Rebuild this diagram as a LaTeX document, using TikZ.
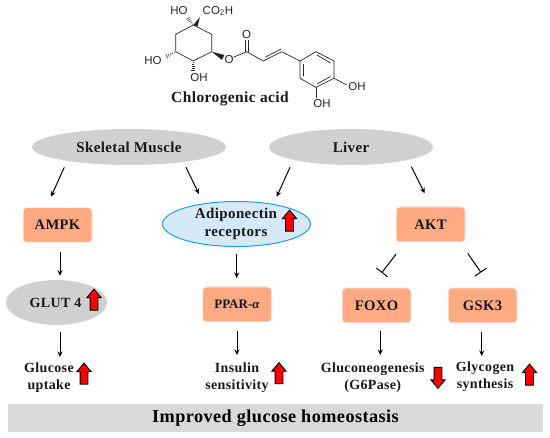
\documentclass[tikz,border=0pt]{standalone}
\usepackage{fontspec}
\setmainfont{Liberation Serif}[LetterSpace=2.5]
\newfontfamily\chemfont{Liberation Sans}
\usetikzlibrary{arrows.meta,shapes.geometric,shapes.arrows,calc}
\definecolor{boxfill}{RGB}{255,170,130}
\definecolor{halo}{RGB}{245,238,234}
\definecolor{ovalgray}{RGB}{208,208,208}
\definecolor{barfill}{RGB}{217,217,217}
\definecolor{adipofill}{RGB}{214,233,248}
\definecolor{adipoline}{RGB}{27,160,225}
\definecolor{txt}{RGB}{25,25,25}
\tikzset{
  tissue/.style={ellipse,fill=ovalgray,inner sep=0pt,font=\fontsize{15}{17}\selectfont\bfseries,text=txt},
  enzyme/.style={rectangle,rounded corners=3.5pt,fill=boxfill,draw=halo,line width=1pt,minimum width=69pt,minimum height=35pt,inner sep=0pt,font=\fontsize{14.6}{17}\selectfont\bfseries,text=txt},
  outcome/.style={align=center,inner sep=0pt,font=\fontsize{14}{17}\selectfont\bfseries,text=txt},
  arr/.style={-{Stealth[length=5.5pt,width=5pt]},line width=1pt,black},
  inhib/.style={-{Bar[width=14pt,length=0.1pt]},line width=1pt,black},
  upmark/.style={single arrow,draw=black,fill=red,line width=0.9pt,inner sep=3.5pt,minimum height=21pt,minimum width=13.5pt,single arrow head extend=3.2pt,single arrow tip angle=80,shape border rotate=90},
  downmark/.style={upmark,shape border rotate=270},
  bond/.style={line width=0.7pt,black!85},
  atom/.style={inner sep=0pt,font=\chemfont\fontsize{11.5}{13}\selectfont,text=black!85}
}
\newcommand{\hashbond}[4]{%
  \foreach \t/\w in {0.12/0.5,0.3/0.9,0.48/1.3,0.66/1.7,0.84/2.1,1/2.5}{%
    \draw[line width=0.5pt,black!85]
      ($($(#1,#2)!\t!(#3,#4)$)!\w pt!90:(#3,#4)$) -- ($($(#1,#2)!\t!(#3,#4)$)!\w pt!-90:(#3,#4)$);}}
\begin{document}
\begin{tikzpicture}[x=1pt,y=-1pt]
\useasboundingbox (0,0) rectangle (550,438);

% molecule
\draw[bond,line join=round] (193.3,25) -- (211.7,34.3) -- (211.7,51.7);
\draw[bond,line join=round] (193.3,61) -- (175.7,51.7) -- (175.7,34.3) -- (193.3,25);
\draw[bond] (211.7,51.7) -- (193.3,0+61);
\fill[black!85] (193.3,25) -- (197.5,26.5) -- (200,17) -- cycle;
\hashbond{193.3}{25}{187}{17}
\hashbond{175.7}{51.7}{165}{57}
\hashbond{193.3}{61}{193.3}{72}
\fill[black!85] (211.7,51.7) -- (222,60) -- (224.5,55) -- cycle;
\draw[bond] (233.3,57.3) -- (246.7,51.7) -- (263.3,61) -- (281.7,51.7) -- (300,61);
\draw[bond] (245.7,51.7) -- (245.7,40);
\draw[bond] (248,51.7) -- (248,40);
\draw[bond] (265.5,57) -- (281,49);
\draw[bond,line join=round] (300,61) -- (316,51.7) -- (334,61) -- (334,78.3) -- (316,87.3) -- (300,78.3) -- cycle;
\draw[bond] (317,55) -- (330.5,63);
\draw[bond] (330.5,76.5) -- (317,84);
\draw[bond] (303,64) -- (303,76);
\draw[bond] (334,78.3) -- (346.7,85);
\draw[bond] (316,87.3) -- (316,98.3);
\node[atom] (m1) at (179,11) {HO};
\node[atom] (m2) at (218,11) {CO\textsubscript{2}H};
\node[atom] (m3) at (153,61) {HO};
\node[atom] (m4) at (199,78) {OH};
\node[atom] (m5) at (229,60) {O};
\node[atom] (m6) at (246.7,34.5) {O};
\node[atom] (m7) at (357,87) {OH};
\node[atom] (m8) at (322,104) {OH};
\node[inner sep=0pt,font=\fontsize{15.5}{17}\selectfont\bfseries,text=txt] (title) at (230,98.5) {Chlorogenic acid};

% tissues
\node[tissue,minimum width=194pt,minimum height=36pt] (skm) at (129,147) {Skeletal Muscle};
\node[tissue,minimum width=164pt,minimum height=36pt] (liver) at (351,147) {Liver};

% signalling nodes
\node[enzyme] (ampk) at (57.5,225) {AMPK};
\node[enzyme] (akt) at (430.5,224.5) {AKT};
\node[ellipse,fill=adipofill,draw=adipoline,line width=1pt,minimum width=148pt,minimum height=45pt,inner sep=0pt] (adipo) at (236.5,224) {};
\node[align=center,inner sep=0pt,font=\fontsize{15}{17.5}\selectfont\bfseries,text=txt] (adipotext) at (236,224) {Adiponectin\\receptors};
\node[ellipse,fill=ovalgray,minimum width=101pt,minimum height=45pt,inner sep=0pt] (glut) at (56.5,302.5) {};
\node[inner sep=0pt,font=\fontsize{14}{16}\selectfont\bfseries,text=txt] (gluttext) at (55.5,302.5) {GLUT 4};
\node[enzyme,font=\fontsize{13}{15}\selectfont\bfseries] (ppar) at (237,304.5) {\addfontfeature{LetterSpace=0}PPAR-\textit{α}};
\node[enzyme] (foxo) at (376.5,305.5) {FOXO};
\node[enzyme] (gsk) at (482.5,305.5) {GSK3};

% outcomes
\node[outcome] (glucose) at (49,377.5) {Glucose\\uptake};
\node[outcome] (insulin) at (237,377.5) {Insulin\\sensitivity};
\node[outcome] (gluco) at (372.7,377.5) {Gluconeogenesis\\(G6Pase)};
\node[outcome] (glyco) at (485,377) {Glycogen\\synthesis};

% bar
\node[rectangle,fill=barfill,minimum width=535pt,minimum height=28pt,inner sep=0pt,font=\fontsize{18.2}{20}\selectfont\bfseries,text=black] (bar) at (275.5,418) {Improved glucose homeostasis};

% connectors
\draw[arr] ([shift={(-64.7,20.3)}]skm.center) -- ([shift={(-6.5,-28.3)}]ampk.center);
\draw[arr] ([shift={(57,20.3)}]skm.center) -- ([shift={(-37.5,-30)}]adipo.center);
\draw[arr] ([shift={(-61,20.3)}]liver.center) -- ([shift={(40.2,-27.3)}]adipo.center);
\draw[arr] ([shift={(60.3,19.7)}]liver.center) -- ([shift={(-5.8,-31.2)}]akt.center);
\draw[arr] ([shift={(2.5,26.7)}]ampk.center) -- ([shift={(3.5,-26.8)}]glut.center);
\draw[arr] ([shift={(0.2,30)}]adipo.center) -- ([shift={(-0.3,-26.5)}]ppar.center);
\draw[arr] ([shift={(3.5,29.2)}]glut.center) -- ([shift={(11,-20.5)}]glucose.center);
\draw[arr] ([shift={(0,26.5)}]ppar.center) -- ([shift={(0,-22.5)}]insulin.center);
\draw[inhib] ([shift={(-34.5,29.8)}]akt.center) -- ([shift={(5.2,-32.7)}]foxo.center);
\draw[inhib] ([shift={(37.2,28.8)}]akt.center) -- ([shift={(-1.5,-33)}]gsk.center);
\draw[arr] ([shift={(3.8,25.5)}]foxo.center) -- ([shift={(7.6,-22.5)}]gluco.center);
\draw[arr] ([shift={(-0.8,26.5)}]gsk.center) -- ([shift={(-3.3,-21)}]glyco.center);

% red markers
\node[upmark] (u1) at (289.5,223) {};
\node[upmark] (u2) at (94,302) {};
\node[upmark] (u3) at (84,376) {};
\node[upmark] (u4) at (279,375.5) {};
\node[downmark] (d1) at (438,375.5) {};
\node[upmark] (u5) at (529.5,377) {};
\end{tikzpicture}
\end{document}
